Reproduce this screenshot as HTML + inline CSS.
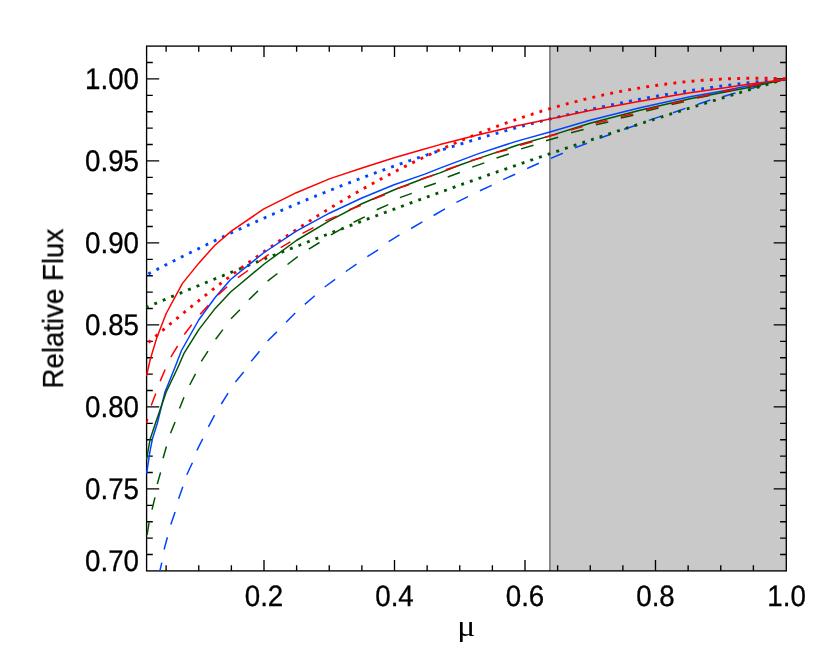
<!DOCTYPE html>
<html><head><meta charset="utf-8"><title>Relative Flux vs mu</title>
<style>html,body{margin:0;padding:0;background:#fff;}svg{display:block;}body{font-family:"Liberation Sans",sans-serif;}</style>
</head><body>
<svg width="830" height="664" viewBox="0 0 830 664">
<rect x="0" y="0" width="830" height="664" fill="#ffffff"/>
<rect x="550" y="46.1" width="236.3" height="524.8" fill="#C9C9C9"/>
<line x1="549.9" y1="46.1" x2="549.9" y2="570.9" stroke="#808080" stroke-width="1.7"/>
<clipPath id="c"><rect x="145.9" y="45.4" width="641.1" height="526.2"/></clipPath>
<g stroke="#000000" stroke-width="1.35" fill="none">
<rect x="146.6" y="46.1" width="639.7" height="524.8"/>
<path d="M166.12 570.9v-5.6M166.12 46.1v5.6M198.75 570.9v-5.6M198.75 46.1v5.6M231.38 570.9v-5.6M231.38 46.1v5.6M264.00 570.9v-11M264.00 46.1v11M296.62 570.9v-5.6M296.62 46.1v5.6M329.25 570.9v-5.6M329.25 46.1v5.6M361.88 570.9v-5.6M361.88 46.1v5.6M394.50 570.9v-11M394.50 46.1v11M427.12 570.9v-5.6M427.12 46.1v5.6M459.75 570.9v-5.6M459.75 46.1v5.6M492.38 570.9v-5.6M492.38 46.1v5.6M525.00 570.9v-11M525.00 46.1v11M557.62 570.9v-5.6M557.62 46.1v5.6M590.25 570.9v-5.6M590.25 46.1v5.6M622.88 570.9v-5.6M622.88 46.1v5.6M655.50 570.9v-11M655.50 46.1v11M688.13 570.9v-5.6M688.13 46.1v5.6M720.75 570.9v-5.6M720.75 46.1v5.6M753.38 570.9v-5.6M753.38 46.1v5.6M146.6 554.50h6.2M786.3 554.50h-6.2M146.6 538.10h6.2M786.3 538.10h-6.2M146.6 521.70h6.2M786.3 521.70h-6.2M146.6 505.30h6.2M786.3 505.30h-6.2M146.6 488.90h12.6M786.3 488.90h-12.6M146.6 472.50h6.2M786.3 472.50h-6.2M146.6 456.10h6.2M786.3 456.10h-6.2M146.6 439.70h6.2M786.3 439.70h-6.2M146.6 423.30h6.2M786.3 423.30h-6.2M146.6 406.90h12.6M786.3 406.90h-12.6M146.6 390.50h6.2M786.3 390.50h-6.2M146.6 374.10h6.2M786.3 374.10h-6.2M146.6 357.70h6.2M786.3 357.70h-6.2M146.6 341.30h6.2M786.3 341.30h-6.2M146.6 324.90h12.6M786.3 324.90h-12.6M146.6 308.50h6.2M786.3 308.50h-6.2M146.6 292.10h6.2M786.3 292.10h-6.2M146.6 275.70h6.2M786.3 275.70h-6.2M146.6 259.30h6.2M786.3 259.30h-6.2M146.6 242.90h12.6M786.3 242.90h-12.6M146.6 226.50h6.2M786.3 226.50h-6.2M146.6 210.10h6.2M786.3 210.10h-6.2M146.6 193.70h6.2M786.3 193.70h-6.2M146.6 177.30h6.2M786.3 177.30h-6.2M146.6 160.90h12.6M786.3 160.90h-12.6M146.6 144.50h6.2M786.3 144.50h-6.2M146.6 128.10h6.2M786.3 128.10h-6.2M146.6 111.70h6.2M786.3 111.70h-6.2M146.6 95.30h6.2M786.3 95.30h-6.2M146.6 78.90h12.6M786.3 78.90h-12.6M146.6 62.50h6.2M786.3 62.50h-6.2"/>
</g>
<g clip-path="url(#c)" fill="none" stroke-linejoin="round">
<path d="M159.0 574.5L161.8 562.6 M164.1 549.5L167.4 537.3 M170.8 524.4L175.1 511.9 M178.6 498.8L182.8 486.8 M186.8 474.7L192.4 462.7 M196.9 450.3L202.7 438.9 M208.4 426.8L214.6 415.2 M221.3 404.0L228.1 393.1 M235.4 381.9L243.7 371.9 M251.2 361.4L259.5 351.2 M267.6 341.0L276.9 331.9 M286.1 322.3L295.2 313.0 M304.8 304.4L314.8 295.7 M324.7 287.0L335.1 279.3 M345.8 271.5L356.5 264.2 M367.3 256.6L378.1 249.8 M388.7 241.6L399.5 234.8 M411.1 228.5L422.4 221.9 M433.6 215.5L445.0 208.9 M456.4 202.4L468.0 196.6 M479.9 190.8L491.7 185.4 M503.2 179.6L515.2 174.2 M527.1 168.5L538.9 163.3 M550.8 158.4L562.8 153.2 M574.9 147.8L587.1 143.4 M599.6 138.3L610.8 134.2 M624.0 129.3L636.3 125.2 M648.8 120.4L661.3 116.1 M672.9 112.7L685.4 108.4 M698.0 104.3L710.4 100.0 M722.6 96.7L735.5 93.0 M748.8 89.4L760.8 85.8 M774.0 82.3L786.0 79.2" stroke="#0044FF" stroke-width="1.5"/>
<path d="M147.1 535.0L149.1 522.5 M152.0 509.6L155.0 497.4 M157.3 484.0L160.6 472.4 M163.1 458.2L166.4 446.5 M170.5 433.2L175.1 422.0 M179.5 408.5L184.0 397.3 M189.7 385.0L195.5 373.8 M201.3 361.4L208.0 351.2 M215.6 339.3L222.9 329.6 M231.0 318.8L239.9 309.8 M248.9 299.7L258.0 290.9 M267.6 281.2L277.4 273.5 M287.5 264.5L297.7 256.7 M308.8 249.2L319.5 242.5 M330.9 234.8L342.0 228.7 M353.6 222.3L364.8 216.9 M376.7 209.8L388.3 204.6 M399.9 197.6L411.8 193.4 M424.0 187.2L435.9 183.2 M447.7 177.0L459.9 172.5 M472.2 167.1L484.3 162.9 M496.5 158.0L508.8 154.0 M521.0 148.9L533.5 145.2 M546.0 140.7L558.2 137.2 M571.1 132.8L583.6 129.5 M595.9 124.8L608.3 121.9 M620.8 117.9L633.4 115.2 M646.2 111.0L658.6 108.0 M671.6 104.4L684.0 101.8 M697.0 98.0L709.5 95.4 M722.4 92.1L735.0 89.6 M748.0 86.6L760.4 84.2 M773.4 81.5L786.0 79.2" stroke="#005500" stroke-width="1.5"/>
<polyline points="146.2,275.0 147.3,274.5 148.4,273.9 149.4,273.4 150.5,272.8 151.6,272.3 152.6,271.7 153.7,271.1 154.8,270.6 155.8,270.0 156.9,269.5 158.0,268.9 159.0,268.4 160.1,267.8 161.2,267.3 162.2,266.7 163.3,266.2 164.4,265.7 165.4,265.1 166.5,264.6 167.6,264.0 168.7,263.5 169.7,262.9 170.8,262.4 171.9,261.8 172.9,261.3 174.0,260.8 175.1,260.2 176.1,259.7 177.2,259.2 178.3,258.6 179.3,258.1 180.4,257.6 181.5,257.0 182.5,256.5 183.6,256.0 184.7,255.4 185.7,254.9 186.8,254.4 187.9,253.8 188.9,253.3 190.0,252.8 191.1,252.2 192.2,251.7 193.2,251.2 194.3,250.7 195.4,250.1 196.4,249.6 197.5,249.1 198.6,248.6 199.6,248.1 200.7,247.5 201.8,247.0 202.8,246.5 203.9,246.0 205.0,245.5 206.0,245.0 207.1,244.4 208.2,243.9 209.2,243.4 210.3,242.9 211.4,242.4 212.4,241.9 213.5,241.4 214.6,240.9 215.6,240.3 216.7,239.8 217.8,239.3 218.9,238.8 219.9,238.3 221.0,237.8 222.1,237.3 223.1,236.8 224.2,236.3 225.3,235.8 226.3,235.3 227.4,234.8 228.5,234.3 229.5,233.8 230.6,233.3 231.7,232.8 232.7,232.3 233.8,231.8 234.9,231.3 235.9,230.8 237.0,230.3 238.1,229.8 239.1,229.3 240.2,228.8 241.3,228.4 242.4,227.9 243.4,227.4 244.5,226.9 245.6,226.4 246.6,225.9 247.7,225.4 248.8,224.9 249.8,224.5 250.9,224.0 252.0,223.5 253.0,223.0 254.1,222.5 255.2,222.0 256.2,221.6 257.3,221.1 258.4,220.6 259.4,220.1 260.5,219.7 261.6,219.2 262.6,218.7 263.7,218.2 264.8,217.8 265.8,217.3 266.9,216.8 268.0,216.3 269.1,215.9 270.1,215.4 271.2,214.9 272.3,214.5 273.3,214.0 274.4,213.5 275.5,213.1 276.5,212.6 277.6,212.1 278.7,211.7 279.7,211.2 280.8,210.7 281.9,210.3 282.9,209.8 284.0,209.4 285.1,208.9 286.1,208.4 287.2,208.0 288.3,207.5 289.3,207.1 290.4,206.6 291.5,206.2 292.5,205.7 293.6,205.3 294.7,204.8 295.8,204.4 296.8,203.9 297.9,203.5 299.0,203.0 300.0,202.6 301.1,202.1 302.2,201.7 303.2,201.2 304.3,200.8 305.4,200.3 306.4,199.9 307.5,199.4 308.6,199.0 309.6,198.6 310.7,198.1 311.8,197.7 312.8,197.2 313.9,196.8 315.0,196.4 316.0,195.9 317.1,195.5 318.2,195.1 319.3,194.6 320.3,194.2 321.4,193.8 322.5,193.3 323.5,192.9 324.6,192.5 325.7,192.0 326.7,191.6 327.8,191.2 328.9,190.8 329.9,190.3 331.0,189.9 332.1,189.5 333.1,189.1 334.2,188.6 335.3,188.2 336.3,187.8 337.4,187.4 338.5,186.9 339.5,186.5 340.6,186.1 341.7,185.7 342.7,185.3 343.8,184.9 344.9,184.4 346.0,184.0 347.0,183.6 348.1,183.2 349.2,182.8 350.2,182.4 351.3,182.0 352.4,181.6 353.4,181.1 354.5,180.7 355.6,180.3 356.6,179.9 357.7,179.5 358.8,179.1 359.8,178.7 360.9,178.3 362.0,177.9 363.0,177.5 364.1,177.1 365.2,176.7 366.2,176.3 367.3,175.9 368.4,175.5 369.5,175.1 370.5,174.7 371.6,174.3 372.7,173.9 373.7,173.5 374.8,173.1 375.9,172.7 376.9,172.3 378.0,171.9 379.1,171.6 380.1,171.2 381.2,170.8 382.3,170.4 383.3,170.0 384.4,169.6 385.5,169.2 386.5,168.8 387.6,168.5 388.7,168.1 389.7,167.7 390.8,167.3 391.9,166.9 392.9,166.5 394.0,166.2 395.1,165.8 396.2,165.4 397.2,165.0 398.3,164.7 399.4,164.3 400.4,163.9 401.5,163.5 402.6,163.2 403.6,162.8 404.7,162.4 405.8,162.0 406.8,161.7 407.9,161.3 409.0,160.9 410.0,160.6 411.1,160.2 412.2,159.8 413.2,159.5 414.3,159.1 415.4,158.7 416.4,158.4 417.5,158.0 418.6,157.6 419.7,157.3 420.7,156.9 421.8,156.6 422.9,156.2 423.9,155.8 425.0,155.5 426.1,155.1 427.1,154.8 428.2,154.4 429.3,154.1 430.3,153.7 431.4,153.3 432.5,153.0 433.5,152.6 434.6,152.3 435.7,151.9 436.7,151.6 437.8,151.2 438.9,150.9 439.9,150.6 441.0,150.2 442.1,149.9 443.1,149.5 444.2,149.2 445.3,148.8 446.4,148.5 447.4,148.1 448.5,147.8 449.6,147.5 450.6,147.1 451.7,146.8 452.8,146.5 453.8,146.1 454.9,145.8 456.0,145.4 457.0,145.1 458.1,144.8 459.2,144.4 460.2,144.1 461.3,143.8 462.4,143.5 463.4,143.1 464.5,142.8 465.6,142.5 466.6,142.1 467.7,141.8 468.8,141.5 469.9,141.2 470.9,140.8 472.0,140.5 473.1,140.2 474.1,139.9 475.2,139.5 476.3,139.2 477.3,138.9 478.4,138.6 479.5,138.3 480.5,137.9 481.6,137.6 482.7,137.3 483.7,137.0 484.8,136.7 485.9,136.4 486.9,136.1 488.0,135.7 489.1,135.4 490.1,135.1 491.2,134.8 492.3,134.5 493.3,134.2 494.4,133.9 495.5,133.6 496.6,133.3 497.6,133.0 498.7,132.7 499.8,132.4 500.8,132.1 501.9,131.8 503.0,131.5 504.0,131.2 505.1,130.9 506.2,130.6 507.2,130.3 508.3,130.0 509.4,129.7 510.4,129.4 511.5,129.1 512.6,128.8 513.6,128.5 514.7,128.2 515.8,127.9 516.8,127.6 517.9,127.3 519.0,127.0 520.0,126.7 521.1,126.5 522.2,126.2 523.3,125.9 524.3,125.6 525.4,125.3 526.5,125.0 527.5,124.7 528.6,124.5 529.7,124.2 530.7,123.9 531.8,123.6 532.9,123.3 533.9,123.1 535.0,122.8 536.1,122.5 537.1,122.2 538.2,122.0 539.3,121.7 540.3,121.4 541.4,121.1 542.5,120.9 543.5,120.6 544.6,120.3 545.7,120.0 546.8,119.8 547.8,119.5 548.9,119.2 550.0,119.0 551.0,118.7 552.1,118.4 553.2,118.2 554.2,117.9 555.3,117.7 556.4,117.4 557.4,117.1 558.5,116.9 559.6,116.6 560.6,116.3 561.7,116.1 562.8,115.8 563.8,115.6 564.9,115.3 566.0,115.1 567.0,114.8 568.1,114.6 569.2,114.3 570.2,114.0 571.3,113.8 572.4,113.5 573.5,113.3 574.5,113.0 575.6,112.8 576.7,112.5 577.7,112.3 578.8,112.1 579.9,111.8 580.9,111.6 582.0,111.3 583.1,111.1 584.1,110.8 585.2,110.6 586.3,110.4 587.3,110.1 588.4,109.9 589.5,109.6 590.5,109.4 591.6,109.2 592.7,108.9 593.7,108.7 594.8,108.5 595.9,108.2 597.0,108.0 598.0,107.8 599.1,107.5 600.2,107.3 601.2,107.1 602.3,106.8 603.4,106.6 604.4,106.4 605.5,106.1 606.6,105.9 607.6,105.7 608.7,105.5 609.8,105.2 610.8,105.0 611.9,104.8 613.0,104.6 614.0,104.4 615.1,104.1 616.2,103.9 617.2,103.7 618.3,103.5 619.4,103.3 620.4,103.1 621.5,102.8 622.6,102.6 623.7,102.4 624.7,102.2 625.8,102.0 626.9,101.8 627.9,101.6 629.0,101.4 630.1,101.1 631.1,100.9 632.2,100.7 633.3,100.5 634.3,100.3 635.4,100.1 636.5,99.9 637.5,99.7 638.6,99.5 639.7,99.3 640.7,99.1 641.8,98.9 642.9,98.7 643.9,98.5 645.0,98.3 646.1,98.1 647.2,97.9 648.2,97.7 649.3,97.5 650.4,97.3 651.4,97.1 652.5,96.9 653.6,96.7 654.6,96.5 655.7,96.4 656.8,96.2 657.8,96.0 658.9,95.8 660.0,95.6 661.0,95.4 662.1,95.2 663.2,95.0 664.2,94.9 665.3,94.7 666.4,94.5 667.4,94.3 668.5,94.1 669.6,93.9 670.6,93.8 671.7,93.6 672.8,93.4 673.9,93.2 674.9,93.1 676.0,92.9 677.1,92.7 678.1,92.5 679.2,92.4 680.3,92.2 681.3,92.0 682.4,91.8 683.5,91.7 684.5,91.5 685.6,91.3 686.7,91.2 687.7,91.0 688.8,90.8 689.9,90.7 690.9,90.5 692.0,90.3 693.1,90.2 694.1,90.0 695.2,89.8 696.3,89.7 697.3,89.5 698.4,89.4 699.5,89.2 700.6,89.0 701.6,88.9 702.7,88.7 703.8,88.6 704.8,88.4 705.9,88.3 707.0,88.1 708.0,88.0 709.1,87.8 710.2,87.7 711.2,87.5 712.3,87.4 713.4,87.2 714.4,87.1 715.5,86.9 716.6,86.8 717.6,86.6 718.7,86.5 719.8,86.3 720.8,86.2 721.9,86.0 723.0,85.9 724.1,85.8 725.1,85.6 726.2,85.5 727.3,85.3 728.3,85.2 729.4,85.1 730.5,84.9 731.5,84.8 732.6,84.7 733.7,84.5 734.7,84.4 735.8,84.3 736.9,84.1 737.9,84.0 739.0,83.9 740.1,83.7 741.1,83.6 742.2,83.5 743.3,83.4 744.3,83.2 745.4,83.1 746.5,83.0 747.5,82.9 748.6,82.7 749.7,82.6 750.8,82.5 751.8,82.4 752.9,82.2 754.0,82.1 755.0,82.0 756.1,81.9 757.2,81.8 758.2,81.7 759.3,81.5 760.4,81.4 761.4,81.3 762.5,81.2 763.6,81.1 764.6,81.0 765.7,80.9 766.8,80.8 767.8,80.6 768.9,80.5 770.0,80.4 771.0,80.3 772.1,80.2 773.2,80.1 774.3,80.0 775.3,79.9 776.4,79.8 777.5,79.7 778.5,79.6 779.6,79.5 780.7,79.4 781.7,79.3 782.8,79.2 783.9,79.1 784.9,79.0 786.0,78.9" stroke="#0044FF" stroke-width="2.9" stroke-dasharray="2.9 6.2590" stroke-dashoffset="6.800"/>
<polyline points="146.2,307.3 147.3,306.9 148.4,306.4 149.4,306.0 150.5,305.5 151.6,305.1 152.6,304.7 153.7,304.2 154.8,303.8 155.8,303.3 156.9,302.9 158.0,302.4 159.0,302.0 160.1,301.5 161.2,301.1 162.2,300.6 163.3,300.2 164.4,299.7 165.4,299.3 166.5,298.8 167.6,298.4 168.7,298.0 169.7,297.5 170.8,297.1 171.9,296.6 172.9,296.2 174.0,295.7 175.1,295.3 176.1,294.8 177.2,294.4 178.3,294.0 179.3,293.5 180.4,293.1 181.5,292.6 182.5,292.2 183.6,291.7 184.7,291.3 185.7,290.9 186.8,290.4 187.9,290.0 188.9,289.5 190.0,289.1 191.1,288.7 192.2,288.2 193.2,287.8 194.3,287.3 195.4,286.9 196.4,286.5 197.5,286.0 198.6,285.6 199.6,285.1 200.7,284.7 201.8,284.3 202.8,283.8 203.9,283.4 205.0,283.0 206.0,282.5 207.1,282.1 208.2,281.6 209.2,281.2 210.3,280.8 211.4,280.3 212.4,279.9 213.5,279.5 214.6,279.0 215.6,278.6 216.7,278.2 217.8,277.7 218.9,277.3 219.9,276.9 221.0,276.4 222.1,276.0 223.1,275.6 224.2,275.1 225.3,274.7 226.3,274.3 227.4,273.8 228.5,273.4 229.5,273.0 230.6,272.5 231.7,272.1 232.7,271.7 233.8,271.2 234.9,270.8 235.9,270.4 237.0,269.9 238.1,269.5 239.1,269.1 240.2,268.7 241.3,268.2 242.4,267.8 243.4,267.4 244.5,266.9 245.6,266.5 246.6,266.1 247.7,265.7 248.8,265.2 249.8,264.8 250.9,264.4 252.0,263.9 253.0,263.5 254.1,263.1 255.2,262.7 256.2,262.2 257.3,261.8 258.4,261.4 259.4,261.0 260.5,260.5 261.6,260.1 262.6,259.7 263.7,259.3 264.8,258.8 265.8,258.4 266.9,258.0 268.0,257.6 269.1,257.1 270.1,256.7 271.2,256.3 272.3,255.9 273.3,255.4 274.4,255.0 275.5,254.6 276.5,254.2 277.6,253.8 278.7,253.3 279.7,252.9 280.8,252.5 281.9,252.1 282.9,251.7 284.0,251.2 285.1,250.8 286.1,250.4 287.2,250.0 288.3,249.6 289.3,249.1 290.4,248.7 291.5,248.3 292.5,247.9 293.6,247.5 294.7,247.0 295.8,246.6 296.8,246.2 297.9,245.8 299.0,245.4 300.0,245.0 301.1,244.5 302.2,244.1 303.2,243.7 304.3,243.3 305.4,242.9 306.4,242.5 307.5,242.0 308.6,241.6 309.6,241.2 310.7,240.8 311.8,240.4 312.8,240.0 313.9,239.6 315.0,239.1 316.0,238.7 317.1,238.3 318.2,237.9 319.3,237.5 320.3,237.1 321.4,236.7 322.5,236.3 323.5,235.8 324.6,235.4 325.7,235.0 326.7,234.6 327.8,234.2 328.9,233.8 329.9,233.4 331.0,233.0 332.1,232.6 333.1,232.1 334.2,231.7 335.3,231.3 336.3,230.9 337.4,230.5 338.5,230.1 339.5,229.7 340.6,229.3 341.7,228.9 342.7,228.5 343.8,228.1 344.9,227.6 346.0,227.2 347.0,226.8 348.1,226.4 349.2,226.0 350.2,225.6 351.3,225.2 352.4,224.8 353.4,224.4 354.5,224.0 355.6,223.6 356.6,223.2 357.7,222.8 358.8,222.4 359.8,222.0 360.9,221.6 362.0,221.2 363.0,220.8 364.1,220.4 365.2,220.0 366.2,219.5 367.3,219.1 368.4,218.7 369.5,218.3 370.5,217.9 371.6,217.5 372.7,217.1 373.7,216.7 374.8,216.3 375.9,215.9 376.9,215.5 378.0,215.1 379.1,214.7 380.1,214.3 381.2,213.9 382.3,213.5 383.3,213.1 384.4,212.7 385.5,212.3 386.5,211.9 387.6,211.5 388.7,211.1 389.7,210.7 390.8,210.3 391.9,209.9 392.9,209.6 394.0,209.2 395.1,208.8 396.2,208.4 397.2,208.0 398.3,207.6 399.4,207.2 400.4,206.8 401.5,206.4 402.6,206.0 403.6,205.6 404.7,205.2 405.8,204.8 406.8,204.4 407.9,204.0 409.0,203.6 410.0,203.2 411.1,202.8 412.2,202.4 413.2,202.1 414.3,201.7 415.4,201.3 416.4,200.9 417.5,200.5 418.6,200.1 419.7,199.7 420.7,199.3 421.8,198.9 422.9,198.5 423.9,198.1 425.0,197.7 426.1,197.4 427.1,197.0 428.2,196.6 429.3,196.2 430.3,195.8 431.4,195.4 432.5,195.0 433.5,194.6 434.6,194.2 435.7,193.9 436.7,193.5 437.8,193.1 438.9,192.7 439.9,192.3 441.0,191.9 442.1,191.5 443.1,191.1 444.2,190.8 445.3,190.4 446.4,190.0 447.4,189.6 448.5,189.2 449.6,188.8 450.6,188.4 451.7,188.1 452.8,187.7 453.8,187.3 454.9,186.9 456.0,186.5 457.0,186.1 458.1,185.8 459.2,185.4 460.2,185.0 461.3,184.6 462.4,184.2 463.4,183.8 464.5,183.5 465.6,183.1 466.6,182.7 467.7,182.3 468.8,181.9 469.9,181.6 470.9,181.2 472.0,180.8 473.1,180.4 474.1,180.0 475.2,179.7 476.3,179.3 477.3,178.9 478.4,178.5 479.5,178.1 480.5,177.8 481.6,177.4 482.7,177.0 483.7,176.6 484.8,176.3 485.9,175.9 486.9,175.5 488.0,175.1 489.1,174.7 490.1,174.4 491.2,174.0 492.3,173.6 493.3,173.2 494.4,172.9 495.5,172.5 496.6,172.1 497.6,171.7 498.7,171.4 499.8,171.0 500.8,170.6 501.9,170.2 503.0,169.9 504.0,169.5 505.1,169.1 506.2,168.8 507.2,168.4 508.3,168.0 509.4,167.6 510.4,167.3 511.5,166.9 512.6,166.5 513.6,166.1 514.7,165.8 515.8,165.4 516.8,165.0 517.9,164.7 519.0,164.3 520.0,163.9 521.1,163.6 522.2,163.2 523.3,162.8 524.3,162.4 525.4,162.1 526.5,161.7 527.5,161.3 528.6,161.0 529.7,160.6 530.7,160.2 531.8,159.9 532.9,159.5 533.9,159.1 535.0,158.8 536.1,158.4 537.1,158.0 538.2,157.7 539.3,157.3 540.3,156.9 541.4,156.6 542.5,156.2 543.5,155.8 544.6,155.5 545.7,155.1 546.8,154.7 547.8,154.4 548.9,154.0 550.0,153.7 551.0,153.3 552.1,152.9 553.2,152.6 554.2,152.2 555.3,151.8 556.4,151.5 557.4,151.1 558.5,150.8 559.6,150.4 560.6,150.0 561.7,149.7 562.8,149.3 563.8,149.0 564.9,148.6 566.0,148.2 567.0,147.9 568.1,147.5 569.2,147.2 570.2,146.8 571.3,146.4 572.4,146.1 573.5,145.7 574.5,145.4 575.6,145.0 576.7,144.6 577.7,144.3 578.8,143.9 579.9,143.6 580.9,143.2 582.0,142.9 583.1,142.5 584.1,142.1 585.2,141.8 586.3,141.4 587.3,141.1 588.4,140.7 589.5,140.4 590.5,140.0 591.6,139.7 592.7,139.3 593.7,138.9 594.8,138.6 595.9,138.2 597.0,137.9 598.0,137.5 599.1,137.2 600.2,136.8 601.2,136.5 602.3,136.1 603.4,135.8 604.4,135.4 605.5,135.1 606.6,134.7 607.6,134.4 608.7,134.0 609.8,133.7 610.8,133.3 611.9,133.0 613.0,132.6 614.0,132.3 615.1,131.9 616.2,131.6 617.2,131.2 618.3,130.9 619.4,130.5 620.4,130.2 621.5,129.8 622.6,129.5 623.7,129.1 624.7,128.8 625.8,128.4 626.9,128.1 627.9,127.7 629.0,127.4 630.1,127.0 631.1,126.7 632.2,126.3 633.3,126.0 634.3,125.7 635.4,125.3 636.5,125.0 637.5,124.6 638.6,124.3 639.7,123.9 640.7,123.6 641.8,123.2 642.9,122.9 643.9,122.6 645.0,122.2 646.1,121.9 647.2,121.5 648.2,121.2 649.3,120.8 650.4,120.5 651.4,120.2 652.5,119.8 653.6,119.5 654.6,119.1 655.7,118.8 656.8,118.5 657.8,118.1 658.9,117.8 660.0,117.4 661.0,117.1 662.1,116.8 663.2,116.4 664.2,116.1 665.3,115.7 666.4,115.4 667.4,115.1 668.5,114.7 669.6,114.4 670.6,114.0 671.7,113.7 672.8,113.4 673.9,113.0 674.9,112.7 676.0,112.4 677.1,112.0 678.1,111.7 679.2,111.3 680.3,111.0 681.3,110.7 682.4,110.3 683.5,110.0 684.5,109.7 685.6,109.3 686.7,109.0 687.7,108.7 688.8,108.3 689.9,108.0 690.9,107.7 692.0,107.3 693.1,107.0 694.1,106.7 695.2,106.3 696.3,106.0 697.3,105.7 698.4,105.3 699.5,105.0 700.6,104.7 701.6,104.3 702.7,104.0 703.8,103.7 704.8,103.4 705.9,103.0 707.0,102.7 708.0,102.4 709.1,102.0 710.2,101.7 711.2,101.4 712.3,101.0 713.4,100.7 714.4,100.4 715.5,100.1 716.6,99.7 717.6,99.4 718.7,99.1 719.8,98.7 720.8,98.4 721.9,98.1 723.0,97.8 724.1,97.4 725.1,97.1 726.2,96.8 727.3,96.5 728.3,96.1 729.4,95.8 730.5,95.5 731.5,95.2 732.6,94.8 733.7,94.5 734.7,94.2 735.8,93.9 736.9,93.5 737.9,93.2 739.0,92.9 740.1,92.6 741.1,92.2 742.2,91.9 743.3,91.6 744.3,91.3 745.4,91.0 746.5,90.6 747.5,90.3 748.6,90.0 749.7,89.7 750.8,89.4 751.8,89.0 752.9,88.7 754.0,88.4 755.0,88.1 756.1,87.8 757.2,87.4 758.2,87.1 759.3,86.8 760.4,86.5 761.4,86.2 762.5,85.8 763.6,85.5 764.6,85.2 765.7,84.9 766.8,84.6 767.8,84.3 768.9,83.9 770.0,83.6 771.0,83.3 772.1,83.0 773.2,82.7 774.3,82.4 775.3,82.0 776.4,81.7 777.5,81.4 778.5,81.1 779.6,80.8 780.7,80.5 781.7,80.2 782.8,79.8 783.9,79.5 784.9,79.2 786.0,78.9" stroke="#005500" stroke-width="2.9" stroke-dasharray="2.9 6.2553" stroke-dashoffset="0.377"/>
<polyline points="146.2,344.5 147.3,343.6 148.4,342.7 149.4,341.7 150.5,340.8 151.6,339.9 152.6,339.0 153.7,338.1 154.8,337.1 155.8,336.2 156.9,335.3 158.0,334.4 159.0,333.5 160.1,332.6 161.2,331.6 162.2,330.7 163.3,329.8 164.4,328.9 165.4,328.0 166.5,327.1 167.6,326.2 168.7,325.3 169.7,324.4 170.8,323.5 171.9,322.6 172.9,321.7 174.0,320.8 175.1,320.0 176.1,319.1 177.2,318.2 178.3,317.3 179.3,316.4 180.4,315.5 181.5,314.6 182.5,313.8 183.6,312.9 184.7,312.0 185.7,311.1 186.8,310.3 187.9,309.4 188.9,308.5 190.0,307.7 191.1,306.8 192.2,305.9 193.2,305.1 194.3,304.2 195.4,303.4 196.4,302.5 197.5,301.6 198.6,300.8 199.6,299.9 200.7,299.1 201.8,298.2 202.8,297.4 203.9,296.6 205.0,295.7 206.0,294.9 207.1,294.0 208.2,293.2 209.2,292.4 210.3,291.5 211.4,290.7 212.4,289.8 213.5,289.0 214.6,288.2 215.6,287.4 216.7,286.5 217.8,285.7 218.9,284.9 219.9,284.1 221.0,283.2 222.1,282.4 223.1,281.6 224.2,280.8 225.3,280.0 226.3,279.2 227.4,278.4 228.5,277.6 229.5,276.8 230.6,275.9 231.7,275.1 232.7,274.3 233.8,273.5 234.9,272.7 235.9,272.0 237.0,271.2 238.1,270.4 239.1,269.6 240.2,268.8 241.3,268.0 242.4,267.2 243.4,266.4 244.5,265.6 245.6,264.9 246.6,264.1 247.7,263.3 248.8,262.5 249.8,261.7 250.9,261.0 252.0,260.2 253.0,259.4 254.1,258.7 255.2,257.9 256.2,257.1 257.3,256.4 258.4,255.6 259.4,254.8 260.5,254.1 261.6,253.3 262.6,252.6 263.7,251.8 264.8,251.1 265.8,250.3 266.9,249.6 268.0,248.8 269.1,248.1 270.1,247.3 271.2,246.6 272.3,245.8 273.3,245.1 274.4,244.4 275.5,243.6 276.5,242.9 277.6,242.2 278.7,241.4 279.7,240.7 280.8,240.0 281.9,239.3 282.9,238.5 284.0,237.8 285.1,237.1 286.1,236.4 287.2,235.6 288.3,234.9 289.3,234.2 290.4,233.5 291.5,232.8 292.5,232.1 293.6,231.4 294.7,230.7 295.8,230.0 296.8,229.3 297.9,228.6 299.0,227.9 300.0,227.2 301.1,226.5 302.2,225.8 303.2,225.1 304.3,224.4 305.4,223.7 306.4,223.0 307.5,222.3 308.6,221.6 309.6,220.9 310.7,220.3 311.8,219.6 312.8,218.9 313.9,218.2 315.0,217.6 316.0,216.9 317.1,216.2 318.2,215.5 319.3,214.9 320.3,214.2 321.4,213.5 322.5,212.9 323.5,212.2 324.6,211.5 325.7,210.9 326.7,210.2 327.8,209.6 328.9,208.9 329.9,208.3 331.0,207.6 332.1,207.0 333.1,206.3 334.2,205.7 335.3,205.0 336.3,204.4 337.4,203.7 338.5,203.1 339.5,202.5 340.6,201.8 341.7,201.2 342.7,200.6 343.8,199.9 344.9,199.3 346.0,198.7 347.0,198.0 348.1,197.4 349.2,196.8 350.2,196.2 351.3,195.6 352.4,194.9 353.4,194.3 354.5,193.7 355.6,193.1 356.6,192.5 357.7,191.9 358.8,191.3 359.8,190.7 360.9,190.1 362.0,189.5 363.0,188.8 364.1,188.2 365.2,187.6 366.2,187.1 367.3,186.5 368.4,185.9 369.5,185.3 370.5,184.7 371.6,184.1 372.7,183.5 373.7,182.9 374.8,182.3 375.9,181.8 376.9,181.2 378.0,180.6 379.1,180.0 380.1,179.4 381.2,178.9 382.3,178.3 383.3,177.7 384.4,177.2 385.5,176.6 386.5,176.0 387.6,175.5 388.7,174.9 389.7,174.3 390.8,173.8 391.9,173.2 392.9,172.7 394.0,172.1 395.1,171.6 396.2,171.0 397.2,170.4 398.3,169.9 399.4,169.4 400.4,168.8 401.5,168.3 402.6,167.7 403.6,167.2 404.7,166.6 405.8,166.1 406.8,165.6 407.9,165.0 409.0,164.5 410.0,164.0 411.1,163.5 412.2,162.9 413.2,162.4 414.3,161.9 415.4,161.4 416.4,160.8 417.5,160.3 418.6,159.8 419.7,159.3 420.7,158.8 421.8,158.3 422.9,157.7 423.9,157.2 425.0,156.7 426.1,156.2 427.1,155.7 428.2,155.2 429.3,154.7 430.3,154.2 431.4,153.7 432.5,153.2 433.5,152.7 434.6,152.2 435.7,151.7 436.7,151.3 437.8,150.8 438.9,150.3 439.9,149.8 441.0,149.3 442.1,148.8 443.1,148.4 444.2,147.9 445.3,147.4 446.4,146.9 447.4,146.5 448.5,146.0 449.6,145.5 450.6,145.0 451.7,144.6 452.8,144.1 453.8,143.7 454.9,143.2 456.0,142.7 457.0,142.3 458.1,141.8 459.2,141.4 460.2,140.9 461.3,140.5 462.4,140.0 463.4,139.6 464.5,139.1 465.6,138.7 466.6,138.2 467.7,137.8 468.8,137.3 469.9,136.9 470.9,136.5 472.0,136.0 473.1,135.6 474.1,135.2 475.2,134.7 476.3,134.3 477.3,133.9 478.4,133.5 479.5,133.0 480.5,132.6 481.6,132.2 482.7,131.8 483.7,131.4 484.8,130.9 485.9,130.5 486.9,130.1 488.0,129.7 489.1,129.3 490.1,128.9 491.2,128.5 492.3,128.1 493.3,127.7 494.4,127.3 495.5,126.9 496.6,126.5 497.6,126.1 498.7,125.7 499.8,125.3 500.8,124.9 501.9,124.5 503.0,124.1 504.0,123.7 505.1,123.3 506.2,123.0 507.2,122.6 508.3,122.2 509.4,121.8 510.4,121.4 511.5,121.1 512.6,120.7 513.6,120.3 514.7,120.0 515.8,119.6 516.8,119.2 517.9,118.9 519.0,118.5 520.0,118.1 521.1,117.8 522.2,117.4 523.3,117.1 524.3,116.7 525.4,116.3 526.5,116.0 527.5,115.6 528.6,115.3 529.7,115.0 530.7,114.6 531.8,114.3 532.9,113.9 533.9,113.6 535.0,113.2 536.1,112.9 537.1,112.6 538.2,112.2 539.3,111.9 540.3,111.6 541.4,111.2 542.5,110.9 543.5,110.6 544.6,110.3 545.7,109.9 546.8,109.6 547.8,109.3 548.9,109.0 550.0,108.7 551.0,108.4 552.1,108.0 553.2,107.7 554.2,107.4 555.3,107.1 556.4,106.8 557.4,106.5 558.5,106.2 559.6,105.9 560.6,105.6 561.7,105.3 562.8,105.0 563.8,104.7 564.9,104.4 566.0,104.1 567.0,103.8 568.1,103.5 569.2,103.3 570.2,103.0 571.3,102.7 572.4,102.4 573.5,102.1 574.5,101.8 575.6,101.6 576.7,101.3 577.7,101.0 578.8,100.8 579.9,100.5 580.9,100.2 582.0,99.9 583.1,99.7 584.1,99.4 585.2,99.2 586.3,98.9 587.3,98.6 588.4,98.4 589.5,98.1 590.5,97.9 591.6,97.6 592.7,97.4 593.7,97.1 594.8,96.9 595.9,96.6 597.0,96.4 598.0,96.1 599.1,95.9 600.2,95.7 601.2,95.4 602.3,95.2 603.4,94.9 604.4,94.7 605.5,94.5 606.6,94.3 607.6,94.0 608.7,93.8 609.8,93.6 610.8,93.4 611.9,93.1 613.0,92.9 614.0,92.7 615.1,92.5 616.2,92.3 617.2,92.1 618.3,91.8 619.4,91.6 620.4,91.4 621.5,91.2 622.6,91.0 623.7,90.8 624.7,90.6 625.8,90.4 626.9,90.2 627.9,90.0 629.0,89.8 630.1,89.6 631.1,89.4 632.2,89.2 633.3,89.1 634.3,88.9 635.4,88.7 636.5,88.5 637.5,88.3 638.6,88.1 639.7,88.0 640.7,87.8 641.8,87.6 642.9,87.4 643.9,87.3 645.0,87.1 646.1,86.9 647.2,86.7 648.2,86.6 649.3,86.4 650.4,86.3 651.4,86.1 652.5,85.9 653.6,85.8 654.6,85.6 655.7,85.5 656.8,85.3 657.8,85.2 658.9,85.0 660.0,84.9 661.0,84.7 662.1,84.6 663.2,84.4 664.2,84.3 665.3,84.2 666.4,84.0 667.4,83.9 668.5,83.7 669.6,83.6 670.6,83.5 671.7,83.3 672.8,83.2 673.9,83.1 674.9,83.0 676.0,82.8 677.1,82.7 678.1,82.6 679.2,82.5 680.3,82.4 681.3,82.3 682.4,82.1 683.5,82.0 684.5,81.9 685.6,81.8 686.7,81.7 687.7,81.6 688.8,81.5 689.9,81.4 690.9,81.3 692.0,81.2 693.1,81.1 694.1,81.0 695.2,80.9 696.3,80.8 697.3,80.7 698.4,80.6 699.5,80.5 700.6,80.5 701.6,80.4 702.7,80.3 703.8,80.2 704.8,80.1 705.9,80.1 707.0,80.0 708.0,79.9 709.1,79.8 710.2,79.8 711.2,79.7 712.3,79.6 713.4,79.6 714.4,79.5 715.5,79.4 716.6,79.4 717.6,79.3 718.7,79.3 719.8,79.2 720.8,79.1 721.9,79.1 723.0,79.0 724.1,79.0 725.1,78.9 726.2,78.9 727.3,78.9 728.3,78.8 729.4,78.8 730.5,78.7 731.5,78.7 732.6,78.7 733.7,78.6 734.7,78.6 735.8,78.6 736.9,78.5 737.9,78.5 739.0,78.5 740.1,78.4 741.1,78.4 742.2,78.4 743.3,78.4 744.3,78.4 745.4,78.3 746.5,78.3 747.5,78.3 748.6,78.3 749.7,78.3 750.8,78.3 751.8,78.3 752.9,78.3 754.0,78.3 755.0,78.3 756.1,78.3 757.2,78.3 758.2,78.3 759.3,78.3 760.4,78.3 761.4,78.3 762.5,78.3 763.6,78.3 764.6,78.3 765.7,78.3 766.8,78.3 767.8,78.4 768.9,78.4 770.0,78.4 771.0,78.4 772.1,78.4 773.2,78.5 774.3,78.5 775.3,78.5 776.4,78.6 777.5,78.6 778.5,78.6 779.6,78.7 780.7,78.7 781.7,78.7 782.8,78.8 783.9,78.8 784.9,78.9 786.0,78.9" stroke="#FF0000" stroke-width="2.9" stroke-dasharray="2.9 6.2498" stroke-dashoffset="6.123"/>
<polyline points="146.6,473.6 149.9,451.8 152.3,439.3 157.2,423.8 165.0,392.0 174.7,368.0 181.5,350.5 198.7,320.0 215.1,297.5 230.6,279.5 263.4,253.0 296.3,231.1 329.3,213.2 361.3,198.2 394.1,184.7 424.9,174.1 440.0,168.1 478.6,153.6 517.1,141.1 549.9,132.0 590.0,120.2 640.0,107.7 690.0,96.8 720.0,91.4 750.0,85.6 786.0,79.2" stroke="#0044FF" stroke-width="1.5" />
<polyline points="146.6,459.6 148.2,450.0 150.1,439.3 155.3,423.8 166.2,392.0 177.6,368.0 184.3,352.8 198.8,329.6 215.2,308.4 230.6,292.0 264.2,264.0 296.3,240.5 329.3,220.9 361.3,204.0 395.0,189.5 424.9,178.0 440.0,172.9 459.3,165.2 478.6,158.4 517.1,145.3 549.9,135.9 590.0,123.2 640.0,110.3 690.0,98.8 720.0,93.0 750.0,87.2 786.0,79.2" stroke="#005500" stroke-width="1.5" />
<path d="M146.7 422.9L147.7 419.0 M151.2 405.6L155.8 393.4 M160.2 381.1L165.1 369.5 M170.8 357.2L177.6 346.0 M184.3 334.5L191.7 324.8 M200.1 314.2L208.4 305.2 M218.1 294.9L227.1 286.8 M237.9 277.6L248.0 270.5 M258.9 261.6L268.8 254.5 M280.7 247.7L290.4 241.9 M302.5 233.3L313.5 227.7 M325.3 220.9L336.8 216.1 M349.2 209.8L360.7 205.5 M372.9 199.2L384.8 194.7 M397.0 188.6L408.9 184.7 M421.1 179.3L433.6 175.1 M445.8 169.8L457.7 165.8 M470.5 160.7L482.4 157.5 M495.3 152.7L507.5 149.8 M520.0 145.3L532.5 141.7 M545.1 137.2L557.6 134.0 M570.5 130.1L582.7 126.6 M595.2 123.0L607.3 120.4 M620.8 116.5L632.8 114.0 M645.9 109.8L658.4 106.9 M671.5 103.4L683.9 101.1 M697.0 97.2L709.5 94.7 M722.4 91.6L735.0 89.2 M748.2 86.4L760.2 84.0 M773.6 81.4L786.0 79.2" stroke="#FF0000" stroke-width="1.5"/>
<polyline points="146.5,375.9 150.1,360.0 156.5,338.6 166.2,313.5 182.3,283.6 198.6,263.4 214.9,245.2 231.3,231.1 263.4,209.2 296.3,192.7 330.0,178.6 361.3,168.3 394.1,157.7 421.1,150.0 440.0,144.6 478.6,134.7 517.1,125.7 549.9,118.9 590.0,110.4 640.0,101.2 690.0,92.8 720.0,88.4 750.0,84.1 786.0,79.2" stroke="#FF0000" stroke-width="1.5" />
</g>
<g font-family="Liberation Sans, sans-serif" font-size="28" fill="#000" stroke="#000" stroke-width="0.3" text-rendering="geometricPrecision" opacity="0.999">
<text transform="translate(139.0,89.0) scale(0.99,1.07)" text-anchor="end">1.00</text>
<text transform="translate(139.0,171.0) scale(0.99,1.07)" text-anchor="end">0.95</text>
<text transform="translate(139.0,253.0) scale(0.99,1.07)" text-anchor="end">0.90</text>
<text transform="translate(139.0,335.0) scale(0.99,1.07)" text-anchor="end">0.85</text>
<text transform="translate(139.0,417.0) scale(0.99,1.07)" text-anchor="end">0.80</text>
<text transform="translate(139.0,499.0) scale(0.99,1.07)" text-anchor="end">0.75</text>
<text transform="translate(139.0,571.4) scale(0.99,1.07)" text-anchor="end">0.70</text>
<text transform="translate(264.0,606.0) scale(0.99,1.05)" text-anchor="middle">0.2</text>
<text transform="translate(394.5,606.0) scale(0.99,1.05)" text-anchor="middle">0.4</text>
<text transform="translate(525.0,606.0) scale(0.99,1.05)" text-anchor="middle">0.6</text>
<text transform="translate(655.5,606.0) scale(0.99,1.05)" text-anchor="middle">0.8</text>
<text transform="translate(786.6,606.0) scale(0.99,1.05)" text-anchor="middle">1.0</text>
<text transform="translate(62.8,308.6) rotate(-90) scale(0.987,1.035)" text-anchor="middle">Relative Flux</text>
</g>
<text transform="translate(466.3,636.1) scale(1.12,1)" text-anchor="middle" font-family="Liberation Serif, serif" font-size="30" fill="#000" opacity="0.999">μ</text>
</svg>
</body></html>
